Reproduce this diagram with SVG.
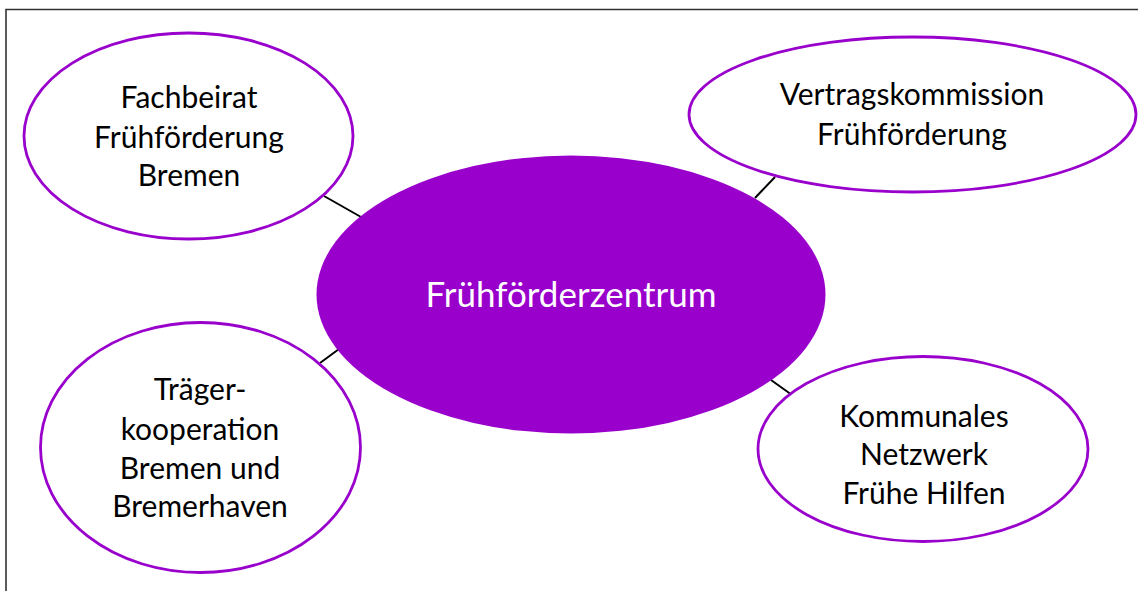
<svg xmlns="http://www.w3.org/2000/svg" width="1138" height="591" viewBox="0 0 1138 591">
<style>
.node{fill:#fff;stroke:#9900cc;stroke-width:2.8}
.hub{fill:#9900cc;stroke:none}
.lbl{font-family:Lato,"Open Sans","Liberation Sans",sans-serif;font-size:30px;fill:#000;text-anchor:middle}
.hubl{font-family:Lato,"Open Sans","Liberation Sans",sans-serif;font-size:35px;fill:#fff;text-anchor:middle}
.conn line{stroke:#000;stroke-width:2}
</style>
<rect width="1138" height="591" fill="#fff"/>
<path d="M6,591 V9.5 H1138" fill="none" stroke="#333" stroke-width="1.6"/>
<g id="connectors" class="conn">
<line x1="324" y1="196" x2="361" y2="217"/>
<line x1="775" y1="177" x2="755" y2="198"/>
<line x1="320" y1="363" x2="339" y2="349"/>
<line x1="771" y1="380" x2="792" y2="395"/>
</g>
<g id="hub">
<ellipse class="hub" cx="571" cy="294.5" rx="254.5" ry="139"/>
<text class="hubl" x="571" y="306.5">Frühförderzentrum</text>
</g>
<g id="fachbeirat">
<ellipse class="node" cx="188.5" cy="136" rx="164.5" ry="103"/>
<text class="lbl" x="189" y="108">Fachbeirat</text>
<text class="lbl" x="189" y="148">Frühförderung</text>
<text class="lbl" x="189" y="186">Bremen</text>
</g>
<g id="vertragskommission">
<ellipse class="node" cx="912.5" cy="114.5" rx="223.5" ry="77.5"/>
<text class="lbl" x="912" y="105">Vertragskommission</text>
<text class="lbl" x="912" y="145">Frühförderung</text>
</g>
<g id="traegerkooperation">
<ellipse class="node" cx="200.5" cy="447.5" rx="160" ry="125"/>
<text class="lbl" x="200" y="400">Träger-</text>
<text class="lbl" x="200" y="440">kooperation</text>
<text class="lbl" x="200" y="479">Bremen und</text>
<text class="lbl" x="200" y="517">Bremerhaven</text>
</g>
<g id="kommunales-netzwerk">
<ellipse class="node" cx="923" cy="449" rx="165" ry="92.5"/>
<text class="lbl" x="924" y="427">Kommunales</text>
<text class="lbl" x="924" y="465">Netzwerk</text>
<text class="lbl" x="924" y="504">Frühe Hilfen</text>
</g>
</svg>
